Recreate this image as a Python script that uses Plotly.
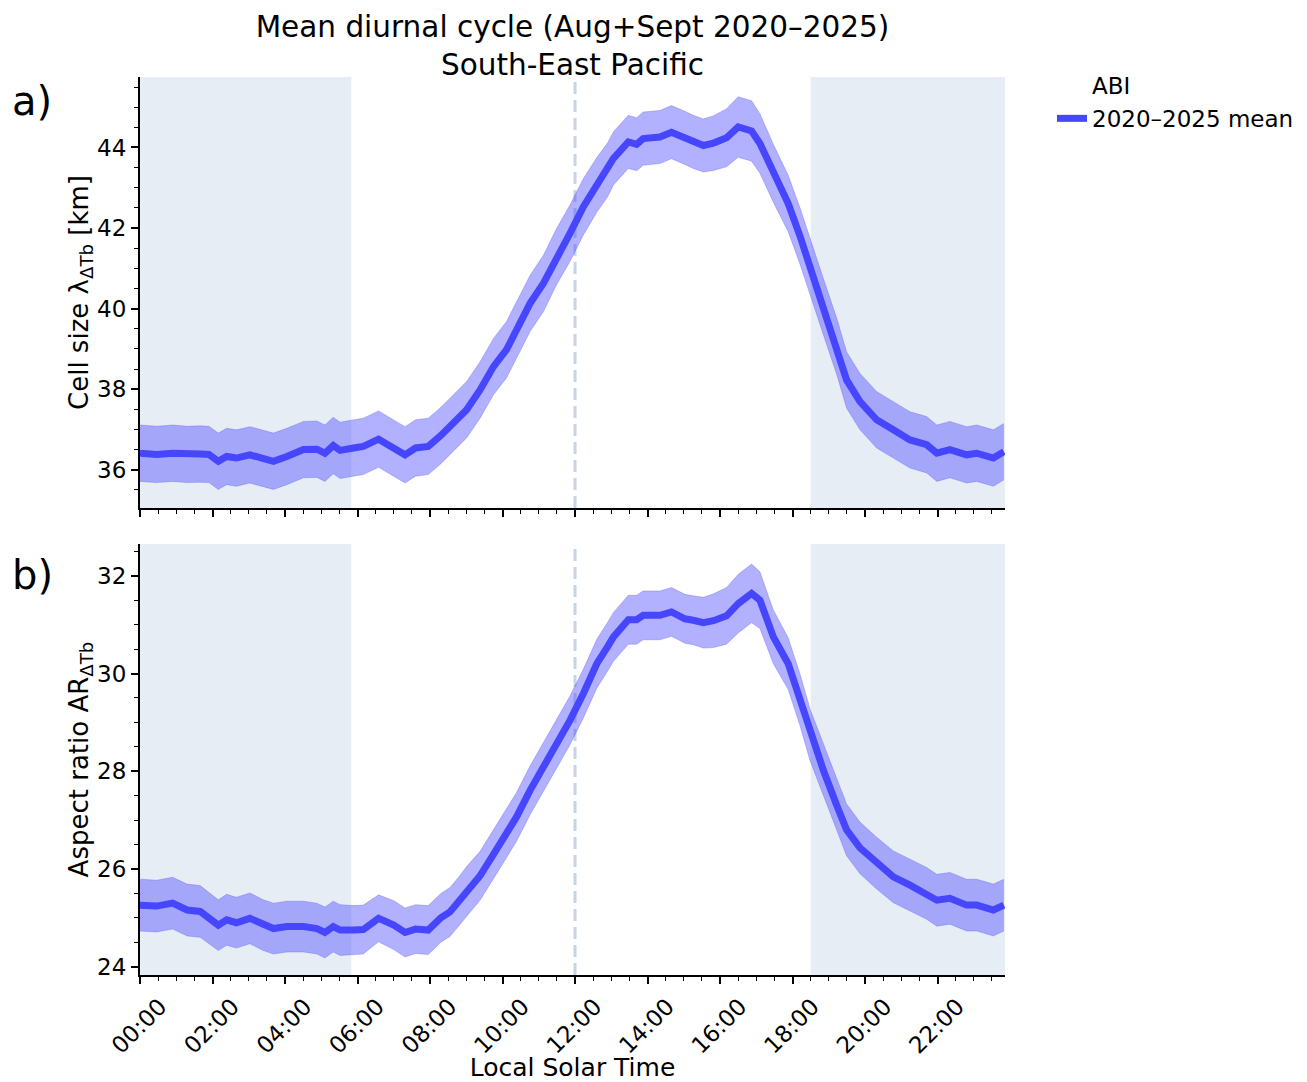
import plotly.graph_objects as go

# ---------------- data ----------------
hours = [0.00, 0.46, 0.90, 1.30, 1.66, 1.90, 2.16, 2.39, 2.66, 3.03, 3.40, 3.68,
         4.05, 4.51, 4.88, 5.10, 5.33, 5.52, 5.89, 6.16, 6.58, 7.00, 7.31, 7.60,
         7.95, 8.30, 8.55, 8.82, 9.01, 9.38, 9.75, 10.11, 10.39, 10.76, 11.13, 11.49,
         11.86, 12.23, 12.60, 12.90, 13.06, 13.47, 13.70, 13.88, 14.34, 14.66, 15.03, 15.26,
         15.54, 15.82, 16.18, 16.50, 16.87, 17.10, 17.47, 17.88, 18.21, 18.48, 18.85, 19.22,
         19.49, 19.86, 20.32, 20.78, 21.24, 21.70, 21.98, 22.34, 22.80, 23.08, 23.54, 23.83]

cell_size = [36.41, 36.38, 36.41, 36.38, 36.39, 36.38, 36.21, 36.33, 36.29, 36.37, 36.28, 36.21,
             36.33, 36.50, 36.51, 36.41, 36.60, 36.48, 36.54, 36.58, 36.76, 36.54, 36.37, 36.54,
             36.58, 36.85, 37.07, 37.30, 37.49, 37.98, 38.56, 38.98, 39.47, 40.13, 40.63, 41.29,
             41.87, 42.53, 43.07, 43.45, 43.73, 44.14, 44.08, 44.22, 44.26, 44.38, 44.24, 44.14,
             44.05, 44.11, 44.24, 44.51, 44.41, 44.10, 43.36, 42.61, 41.79, 41.04, 40.05, 39.06,
             38.23, 37.69, 37.24, 36.99, 36.74, 36.62, 36.41, 36.50, 36.37, 36.41, 36.29, 36.45]

cell_size_spread = [0.70, 0.70, 0.70, 0.70, 0.70, 0.70, 0.70, 0.70, 0.70, 0.70, 0.70, 0.70,
                    0.70, 0.70, 0.70, 0.70, 0.70, 0.70, 0.70, 0.70, 0.70, 0.70, 0.70, 0.70,
                    0.70, 0.70, 0.70, 0.70, 0.70, 0.70, 0.70, 0.70, 0.70, 0.70, 0.70, 0.70,
                    0.70, 0.70, 0.68, 0.67, 0.66, 0.66, 0.66, 0.66, 0.66, 0.66, 0.66, 0.66,
                    0.66, 0.68, 0.72, 0.75, 0.75, 0.74, 0.72, 0.70, 0.70, 0.70, 0.70, 0.70,
                    0.70, 0.70, 0.70, 0.70, 0.70, 0.70, 0.70, 0.70, 0.70, 0.70, 0.70, 0.70]

aspect_ratio = [25.26, 25.24, 25.30, 25.16, 25.13, 25.00, 24.85, 24.96, 24.90, 24.99, 24.85, 24.78,
                24.82, 24.82, 24.78, 24.70, 24.82, 24.75, 24.75, 24.76, 24.99, 24.85, 24.70, 24.77,
                24.75, 25.00, 25.12, 25.36, 25.55, 25.86, 26.30, 26.72, 27.07, 27.61, 28.09, 28.57,
                29.04, 29.59, 30.20, 30.55, 30.75, 31.10, 31.10, 31.19, 31.19, 31.26, 31.12, 31.09,
                31.04, 31.08, 31.18, 31.43, 31.64, 31.50, 30.75, 30.20, 29.45, 28.75, 28.02, 27.30,
                26.80, 26.43, 26.12, 25.84, 25.67, 25.50, 25.36, 25.40, 25.26, 25.26, 25.16, 25.26]

aspect_ratio_spread = [0.53, 0.53, 0.53, 0.53, 0.53, 0.53, 0.52, 0.52, 0.52, 0.52, 0.52, 0.52,
                       0.52, 0.52, 0.52, 0.52, 0.52, 0.52, 0.50, 0.50, 0.48, 0.50, 0.50, 0.50,
                       0.50, 0.50, 0.50, 0.50, 0.50, 0.50, 0.50, 0.50, 0.50, 0.50, 0.50, 0.50,
                       0.50, 0.50, 0.50, 0.50, 0.50, 0.50, 0.50, 0.50, 0.50, 0.50, 0.50, 0.50,
                       0.52, 0.55, 0.58, 0.60, 0.60, 0.58, 0.55, 0.53, 0.53, 0.53, 0.53, 0.53,
                       0.53, 0.53, 0.53, 0.53, 0.53, 0.53, 0.53, 0.53, 0.53, 0.53, 0.53, 0.53]

tick_hours = [0, 2, 4, 6, 8, 10, 12, 14, 16, 18, 20, 22]
tick_labels = ["00:00", "02:00", "04:00", "06:00", "08:00", "10:00",
               "12:00", "14:00", "16:00", "18:00", "20:00", "22:00"]

night_periods = [(0.0, 5.83), (18.5, 23.86)]
noon = 12.0

title_text = "Mean diurnal cycle (Aug+Sept 2020–2025)<br>South-East Pacific"
legend_title = "ABI"
series_name = "2020–2025 mean"

# ---------------- styling ----------------
FONT = "DejaVu Sans"
LINE_COLOR = "#4646ff"
BAND_COLOR = "rgba(68,68,255,0.42)"
BAND_EDGE = "rgba(68,68,255,0.35)"
NIGHT_COLOR = "rgba(176,196,222,0.30)"
NOON_COLOR = "rgba(176,196,222,0.72)"

W, H = 1307, 1082
x_dom = [140 / W, 1005 / W]
y_dom_top = [1 - 508 / H, 1 - 77 / H]
y_dom_bot = [1 - 975 / H, 1 - 544 / H]

fig = go.Figure()

panels = [
    ("x", "y", cell_size, cell_size_spread),
    ("x2", "y2", aspect_ratio, aspect_ratio_spread),
]
for i, (xa, ya, vals, spread) in enumerate(panels):
    upper = [v + s for v, s in zip(vals, spread)]
    lower = [v - s for v, s in zip(vals, spread)]
    fig.add_trace(go.Scatter(x=hours, y=upper, xaxis=xa, yaxis=ya, mode="lines",
                             line=dict(color=BAND_EDGE, width=0.8), showlegend=False,
                             hoverinfo="skip"))
    fig.add_trace(go.Scatter(x=hours, y=lower, xaxis=xa, yaxis=ya, mode="lines",
                             line=dict(color=BAND_EDGE, width=0.8), fill="tonexty",
                             fillcolor=BAND_COLOR, showlegend=False, hoverinfo="skip"))
    if i == 0:
        # legend header row (no symbol)
        fig.add_trace(go.Scatter(x=[None], y=[None], xaxis=xa, yaxis=ya, mode="lines",
                                 line=dict(color="rgba(0,0,0,0)", width=6),
                                 name=legend_title, showlegend=True))
    fig.add_trace(go.Scatter(x=hours, y=vals, xaxis=xa, yaxis=ya, mode="lines",
                             line=dict(color=LINE_COLOR, width=7),
                             name=series_name, showlegend=(i == 0)))

shapes = []
for ya in ["y", "y2"]:
    for x0, x1 in night_periods:
        shapes.append(dict(type="rect", xref="x", yref=f"{ya} domain", x0=x0, x1=x1,
                           y0=0, y1=1, fillcolor=NIGHT_COLOR, line=dict(width=0),
                           layer="below"))
    shapes.append(dict(type="line", xref="x", yref=f"{ya} domain", x0=noon, x1=noon,
                       y0=0, y1=1, line=dict(color=NOON_COLOR, width=3, dash="12px,6px"),
                       layer="below"))

axis_common = dict(showline=True, linecolor="black", linewidth=2, ticks="outside",
                   ticklen=7, tickwidth=1.8, tickcolor="black", showgrid=False,
                   zeroline=False, automargin=False,
                   tickfont=dict(family=FONT, size=23, color="black"))

xaxis_common = dict(axis_common, range=[0, 23.86], tickmode="array",
                    tickvals=tick_hours, ticktext=tick_labels,
                    minor=dict(dtick=0.5, tick0=0, ticks="outside", ticklen=4,
                               tickwidth=1.2, tickcolor="black"))

fig.update_layout(
    width=W, height=H,
    margin=dict(l=0, r=0, t=0, b=0, autoexpand=False),
    paper_bgcolor="white", plot_bgcolor="white",
    font=dict(family=FONT, color="black"),
    title=dict(text=title_text, x=572.5 / W, xanchor="center", y=1 - 37 / H,
               yanchor="middle", yref="container",
               font=dict(family=FONT, size=29.5, color="black")),
    xaxis=dict(xaxis_common, domain=x_dom, anchor="y", showticklabels=False),
    xaxis2=dict(xaxis_common, domain=x_dom, anchor="y2", matches="x",
                tickangle=-45, ticklabelshift=20,
                title=dict(text="Local Solar Time", font=dict(family=FONT, size=25),
                           standoff=6)),
    yaxis=dict(axis_common, domain=y_dom_top, anchor="x", range=[35.05, 45.75],
               tickvals=[36, 38, 40, 42, 44],
               minor=dict(dtick=0.5, tick0=0, ticks="outside", ticklen=4,
                          tickwidth=1.2, tickcolor="black"),
               title=dict(text="Cell size λ<sub>ΔTb</sub> [km]",
                          font=dict(family=FONT, size=26), standoff=1)),
    yaxis2=dict(axis_common, domain=y_dom_bot, anchor="x2", range=[23.83, 32.65],
                tickvals=[24, 26, 28, 30, 32],
                minor=dict(dtick=0.5, tick0=0, ticks="outside", ticklen=4,
                           tickwidth=1.2, tickcolor="black"),
                title=dict(text="Aspect ratio AR<sub>ΔTb</sub>",
                           font=dict(family=FONT, size=26), standoff=1)),
    shapes=shapes,
    legend=dict(x=1052 / W, xanchor="left", y=1 - 64 / H, yanchor="top",
                font=dict(family=FONT, size=23, color="black"),
                bgcolor="rgba(0,0,0,0)", tracegroupgap=0, traceorder="normal"),
    annotations=[
        dict(text="a)", xref="paper", yref="paper", x=10 / W, y=1 - 101 / H,
             xanchor="left", yanchor="middle", showarrow=False,
             font=dict(family=FONT, size=40, color="black")),
        dict(text="b)", xref="paper", yref="paper", x=10 / W, y=1 - 575 / H,
             xanchor="left", yanchor="middle", showarrow=False,
             font=dict(family=FONT, size=40, color="black")),
    ],
)

fig.write_html("out.html")
